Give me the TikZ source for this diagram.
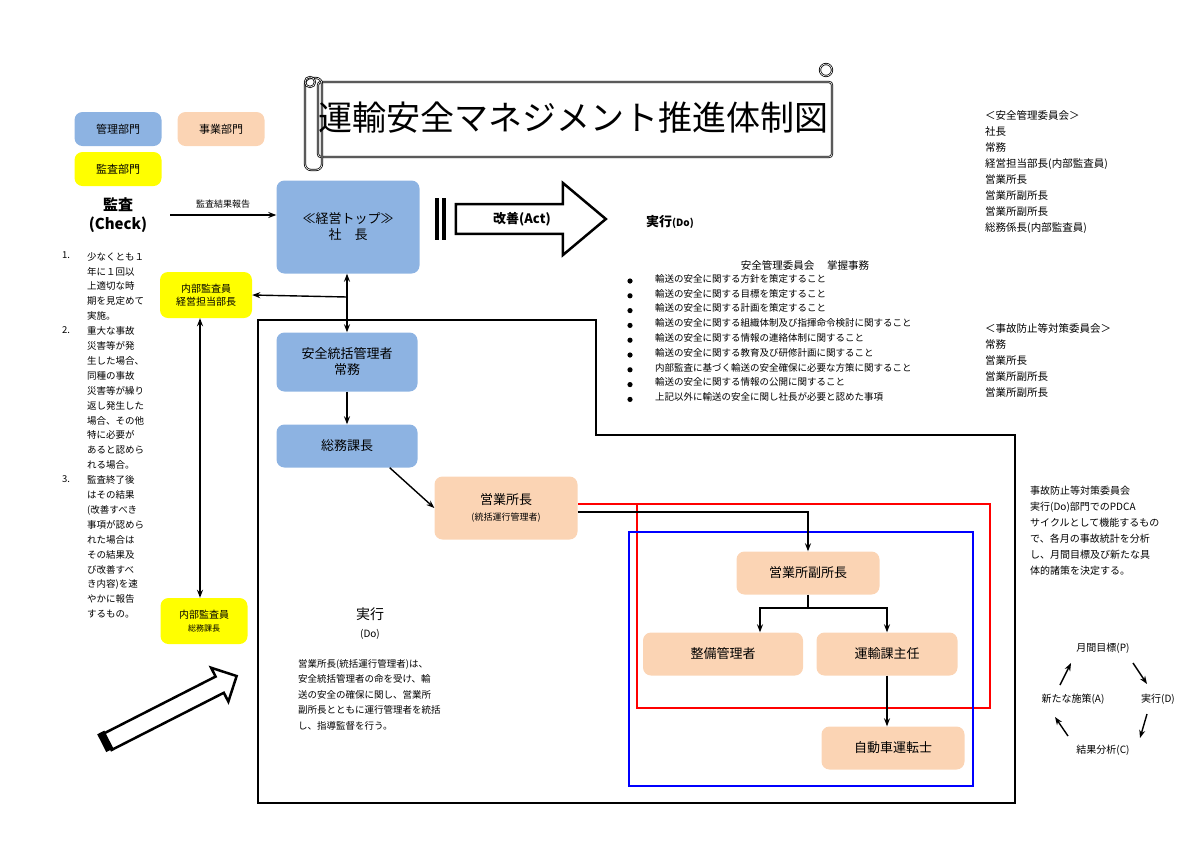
\documentclass[tikz,border=0pt]{standalone}
\usepackage{fontspec}
\setmainfont{Noto Sans CJK JP}
\usetikzlibrary{shapes.arrows,arrows.meta}
\definecolor{mgmtblue}{RGB}{141,179,226}
\definecolor{bizpeach}{RGB}{251,212,180}
\definecolor{audityellow}{RGB}{255,255,0}
\tikzset{
  box/.style={rounded corners=8pt, align=center, inner sep=2pt, font=\fontsize{13}{16}\selectfont},
  mgmt/.style={box, fill=mgmtblue},
  biz/.style={box, fill=bizpeach},
  audit/.style={box, fill=audityellow, font=\fontsize{10}{13}\selectfont},
  flow/.style={line width=1.4pt, -{Stealth[length=8pt]}},
  both/.style={line width=1.4pt, {Stealth[length=8pt]}-{Stealth[length=8pt]}},
  txt/.style={align=left, anchor=north west, inner sep=0pt, font=\fontsize{10.5}{16.5}\selectfont}
}
\begin{document}
\begin{tikzpicture}[x=1pt,y=-1pt]
  \useasboundingbox (0,0) rectangle (1194,847);

  % Title scroll
  \draw[double, thick, rounded corners=3pt] (318,82) rectangle (832,157);
  \draw[double, thick, rounded corners=6pt] (305,78) rectangle (322,170);
  \draw[double, thick] (310,82) circle (5);
  \draw[double, thick] (826,70) circle (6);
  \node (title) at (573,118) {\fontsize{34}{40}\selectfont 運輸安全マネジメント推進体制図};

  % Legend
  \node[mgmt, minimum width=87, minimum height=34, font=\fontsize{11}{13}\selectfont] (legM) at (118,129) {管理部門};
  \node[biz, minimum width=87, minimum height=34, font=\fontsize{11}{13}\selectfont] (legB) at (221,129) {事業部門};
  \node[audit, minimum width=87, minimum height=34, font=\fontsize{11}{13}\selectfont] (legA) at (118,169) {監査部門};

  % Check
  \node[align=center, font=\bfseries\fontsize{15}{19}\selectfont] (check) at (118,215) {監査\\(Check)};
  \coordinate (chkEnd) at (170,215);
  \node[box, fill=mgmtblue, minimum width=143, minimum height=93] (top) at (348,227) {≪経営トップ≫\\社　長};
  \draw[flow] (chkEnd) -- (chkEnd -| top.west) node[midway, above=3pt, font=\fontsize{9}{11}\selectfont] {監査結果報告};

  % Act arrow
  \node[single arrow, draw, line width=2.5pt, minimum width=72, minimum height=150, single arrow head extend=14.5pt,
        single arrow tip angle=80, inner sep=2pt, font=\bfseries\fontsize{13}{15}\selectfont] (act) at (522,219) {改善(Act)\hspace{25pt}};
  \fill (435,198) rectangle (439,240);
  \fill (442,198) rectangle (446,240);
  \node[font=\bfseries\fontsize{13}{15}\selectfont] (doHead) at (670,222) {実行\fontsize{10}{12}\selectfont(Do)};

  % Audit boxes
  \node[audit, minimum width=92, minimum height=46] (audTop) at (206,295) {内部監査員\\経営担当部長};
  \node[audit, minimum width=87, minimum height=46] (audBot) at (204,621) {内部監査員\\{\fontsize{8}{10}\selectfont 総務課長}};
  \draw[both] (audTop.south -| 200,0) -- (audBot.north -| 200,0);

  % Frame
  \draw[line width=1.4pt] (258,320) -- (596,320) -- (596,435) -- (1015,435) -- (1015,803) -- (258,803) -- cycle;

  % Management chain
  \node[mgmt, minimum width=141, minimum height=59] (anzen) at (347,362) {安全統括管理者\\常務};
  \node[mgmt, minimum width=141, minimum height=43] (somu) at (347,446) {総務課長};
  \draw[both] (top.south -| anzen.north) -- (anzen.north);
  \coordinate (brk) at (347,297);
  \draw[flow] (brk) -- (audTop.east);
  \draw[flow] (anzen) -- (somu);

  % Business chain
  \node[biz, minimum width=143, minimum height=63] (shocho) at (506,508) {営業所長\\{\fontsize{9}{11}\selectfont (統括運行管理者)}};
  \draw[flow] (somu.south east) ++(-28,0) -- (shocho.west);
  \draw[red, line width=1.4pt] (578,504) -- (990,504) -- (990,708) -- (637,708) -- (637,504);
  \draw[blue, line width=1.4pt] (629,532) rectangle (973,786);
  \node[biz, minimum width=143, minimum height=43] (fuku) at (808,573) {営業所副所長};
  \node[biz, minimum width=160, minimum height=43] (seibi) at (723,654) {整備管理者};
  \node[biz, minimum width=141, minimum height=43] (unyu) at (887,654) {運輸課主任};
  \node[biz, minimum width=143, minimum height=43] (driver) at (893,748) {自動車運転士};
  \draw[flow] (shocho.east |- 0,512) -| (fuku.north);
  \coordinate (split) at (808,608);
  \draw[line width=1.4pt] (fuku.south) -- (split);
  \draw[flow] (split) -| (seibi.north -| 760,0);
  \draw[flow] (split) -| (unyu.north);
  \draw[flow] (unyu.south) -- (driver.north -| unyu.south);

  % Do text
  \node[align=center, font=\fontsize{14}{18}\selectfont] (doMid) at (370,624) {実行\\{\fontsize{10}{12}\selectfont (Do)}};
  \node[txt, font=\fontsize{9.5}{15.5}\selectfont] (doText) at (298,659) {営業所長(統括運行管理者)は、\\安全統括管理者の命を受け、輸\\送の安全の確保に関し、営業所\\副所長とともに運行管理者を統括\\し、指導監督を行う。};
  \node[single arrow, draw, line width=2.5pt, rotate=27, minimum width=38, minimum height=145,
        single arrow head extend=5pt] (bigArrow) at (168,711) {};
  \fill[rotate around={27:(108,740)}] (101,730) rectangle (109,750);

  % Left list
  \foreach \n/\y in {1/252, 2/326.5, 3/475.5} {
    \node[txt, font=\fontsize{9.5}{14.9}\selectfont] (num\n) at (62,\y) {\n.};
  }
  \node[txt, font=\fontsize{9.5}{14.9}\selectfont] (checkList) at (87,252) {少なくとも１\\年に１回以\\上適切な時\\期を見定めて\\実施。\\重大な事故\\災害等が発\\生した場合、\\同種の事故\\災害等が繰り\\返し発生した\\場合、その他\\特に必要が\\あると認めら\\れる場合。\\監査終了後\\はその結果\\(改善すべき\\事項が認めら\\れた場合は\\その結果及\\び改善すべ\\き内容)を速\\やかに報告\\するもの。};

  % Committee duties
  \node[font=\fontsize{10.5}{13}\selectfont] (dutyHead) at (805,265) {安全管理委員会　 掌握事務};
  \node[txt, font=\fontsize{9.5}{14.8}\selectfont] (duties) at (655,274) {輸送の安全に関する方針を策定すること\\輸送の安全に関する目標を策定すること\\輸送の安全に関する計画を策定すること\\輸送の安全に関する組織体制及び指揮命令検討に関すること\\輸送の安全に関する情報の連絡体制に関すること\\輸送の安全に関する教育及び研修計画に関すること\\内部監査に基づく輸送の安全確保に必要な方策に関すること\\輸送の安全に関する情報の公開に関すること\\上記以外に輸送の安全に関し社長が必要と認めた事項};
  \foreach \i in {0,...,8} {
    \fill (630,281+\i*14.8) circle (2.6);
  }

  % Right lists
  \node[txt, font=\fontsize{10.5}{16}\selectfont] (safetyCom) at (985,110) {＜安全管理委員会＞\\社長\\常務\\経営担当部長(内部監査員)\\営業所長\\営業所副所長\\営業所副所長\\総務係長(内部監査員)};
  \node[txt, font=\fontsize{10.5}{16}\selectfont] (accCom) at (985,323) {＜事故防止等対策委員会＞\\常務\\営業所長\\営業所副所長\\営業所副所長};
  \node[txt, font=\fontsize{10}{16}\selectfont] (pdcaText) at (1030,486) {事故防止等対策委員会\\実行(Do)部門でのPDCA\\サイクルとして機能するもの\\で、各月の事故統計を分析\\し、月間目標及び新たな具\\体的諸策を決定する。};

  % PDCA cycle
  \node[font=\fontsize{10}{12}\selectfont] (pP) at (1103,648) {月間目標(P)};
  \node[font=\fontsize{10}{12}\selectfont] (pA) at (1073,699) {新たな施策(A)};
  \node[font=\fontsize{10}{12}\selectfont] (pD) at (1158,699) {実行(D)};
  \node[font=\fontsize{10}{12}\selectfont] (pC) at (1103,750) {結果分析(C)};
  \draw[flow] (1133,663) -- (1147,684);
  \draw[flow] (1147,714) -- (1140,738);
  \draw[flow] (1068,736) -- (1055,717);
  \draw[flow] (1060,685) -- (1071,663);
\end{tikzpicture}
\end{document}
